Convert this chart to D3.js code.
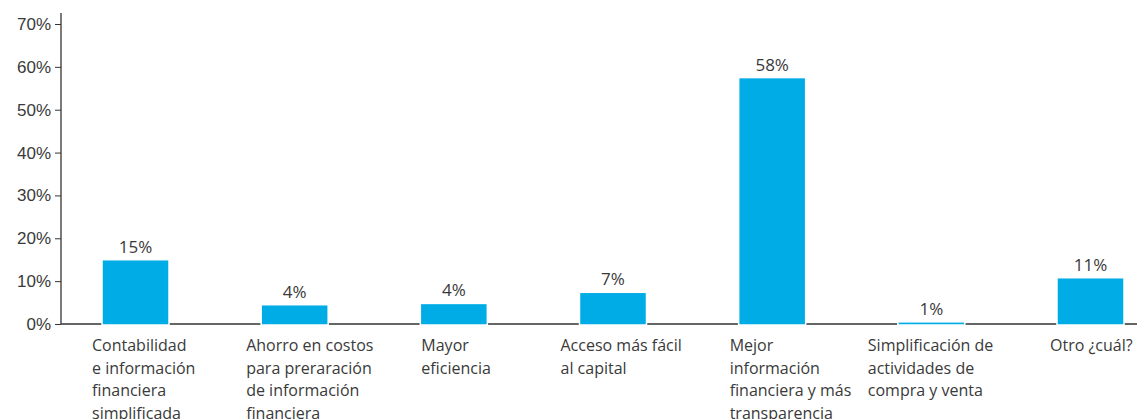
<!DOCTYPE html>
<html>

<head>
    <meta charset="utf-8">
    <style>
        body {
            margin: 0;
            background: #fff;
        }

        svg {
            font-family: "Open Sans", sans-serif;
        }

        .y .tick text {
            font-size: 17px;
            fill: #3a3a3a;
        }

        .y .tick line {
            stroke: #333;
        }

        .value {
            font-size: 17px;
            fill: #3a3a3a;
        }

        .cat {
            font-size: 16px;
            fill: #3a3a3a;
        }
    </style>
</head>

<body>
    <svg width="1137" height="419"></svg>

    <script src="https://d3js.org/d3.v7.min.js"></script>
    <script>
        // categories, one label line per entry
        let categories = [
            ["Contabilidad", "e información", "financiera", "simplificada"],
            ["Ahorro en costos", "para preraración", "de información", "financiera"],
            ["Mayor", "eficiencia"],
            ["Acceso más fácil", "al capital"],
            ["Mejor", "información", "financiera y más", "transparencia"],
            ["Simplificación de", "actividades de", "compra y venta"],
            ["Otro ¿cuál?"]
        ]
        let values = [15.0, 4.5, 4.8, 7.4, 57.5, 0.5, 10.8]
        let valueLabels = ["15%", "4%", "4%", "7%", "58%", "1%", "11%"]
        let yTicks = [0, 10, 20, 30, 40, 50, 60, 70]

        // label start relative to bar left edge
        let labelDx = [-10, -15, 1, -19, -9, -30, -7]

        let keys = categories.map((c, i) => "c" + i)

        let svg = d3.select("svg")

        let x = d3.scaleBand()
            .domain(keys)
            .range([102, 1124])
            .paddingInner(0.579)
            .paddingOuter(0)

        let y = d3.scaleLinear()
            .domain([0, 70])
            .range([324, 24])

        // y axis
        svg.append("g")
            .attr("class", "y axis")
            .attr("transform", "translate(61,0)")
            .call(d3.axisLeft(y).tickValues(yTicks).tickFormat(d => d + "%").tickSize(6).tickPadding(4))
            .call(g => g.select(".domain").remove())

        svg.append("line")
            .attr("x1", 61).attr("x2", 61)
            .attr("y1", 13).attr("y2", y(0))
            .attr("stroke", "#333")
            .attr("stroke-width", 1.3)

        // baseline
        svg.append("line")
            .attr("x1", 61).attr("x2", 1137)
            .attr("y1", y(0)).attr("y2", y(0))
            .attr("stroke", "#333")
            .attr("stroke-width", 1.5)

        // bars
        svg.append("g")
            .selectAll("rect")
            .data(values)
            .join("rect")
            .attr("x", (d, i) => x(keys[i]))
            .attr("y", d => y(d))
            .attr("width", x.bandwidth())
            .attr("height", d => y(0) - y(d) + 1)
            .attr("fill", "#00ace6")
            .attr("stroke", "#fff")
            .attr("stroke-width", 1.5)

        // value labels
        svg.append("g")
            .selectAll("text")
            .data(values)
            .join("text")
            .attr("class", "value")
            .attr("x", (d, i) => x(keys[i]) + x.bandwidth() / 2)
            .attr("y", d => y(d) - 7)
            .attr("text-anchor", "middle")
            .text((d, i) => valueLabels[i])

        // category labels
        let cats = svg.append("g")
            .selectAll("text")
            .data(categories)
            .join("text")
            .attr("class", "cat")
            .attr("x", (d, i) => x(keys[i]) + labelDx[i])
            .attr("y", 351)

        cats.selectAll("tspan")
            .data(d => d)
            .join("tspan")
            .attr("x", function () { return this.parentNode.getAttribute("x") })
            .attr("dy", (d, j) => j === 0 ? 0 : 22.5)
            .text(d => d)
    </script>
</body>

</html>
